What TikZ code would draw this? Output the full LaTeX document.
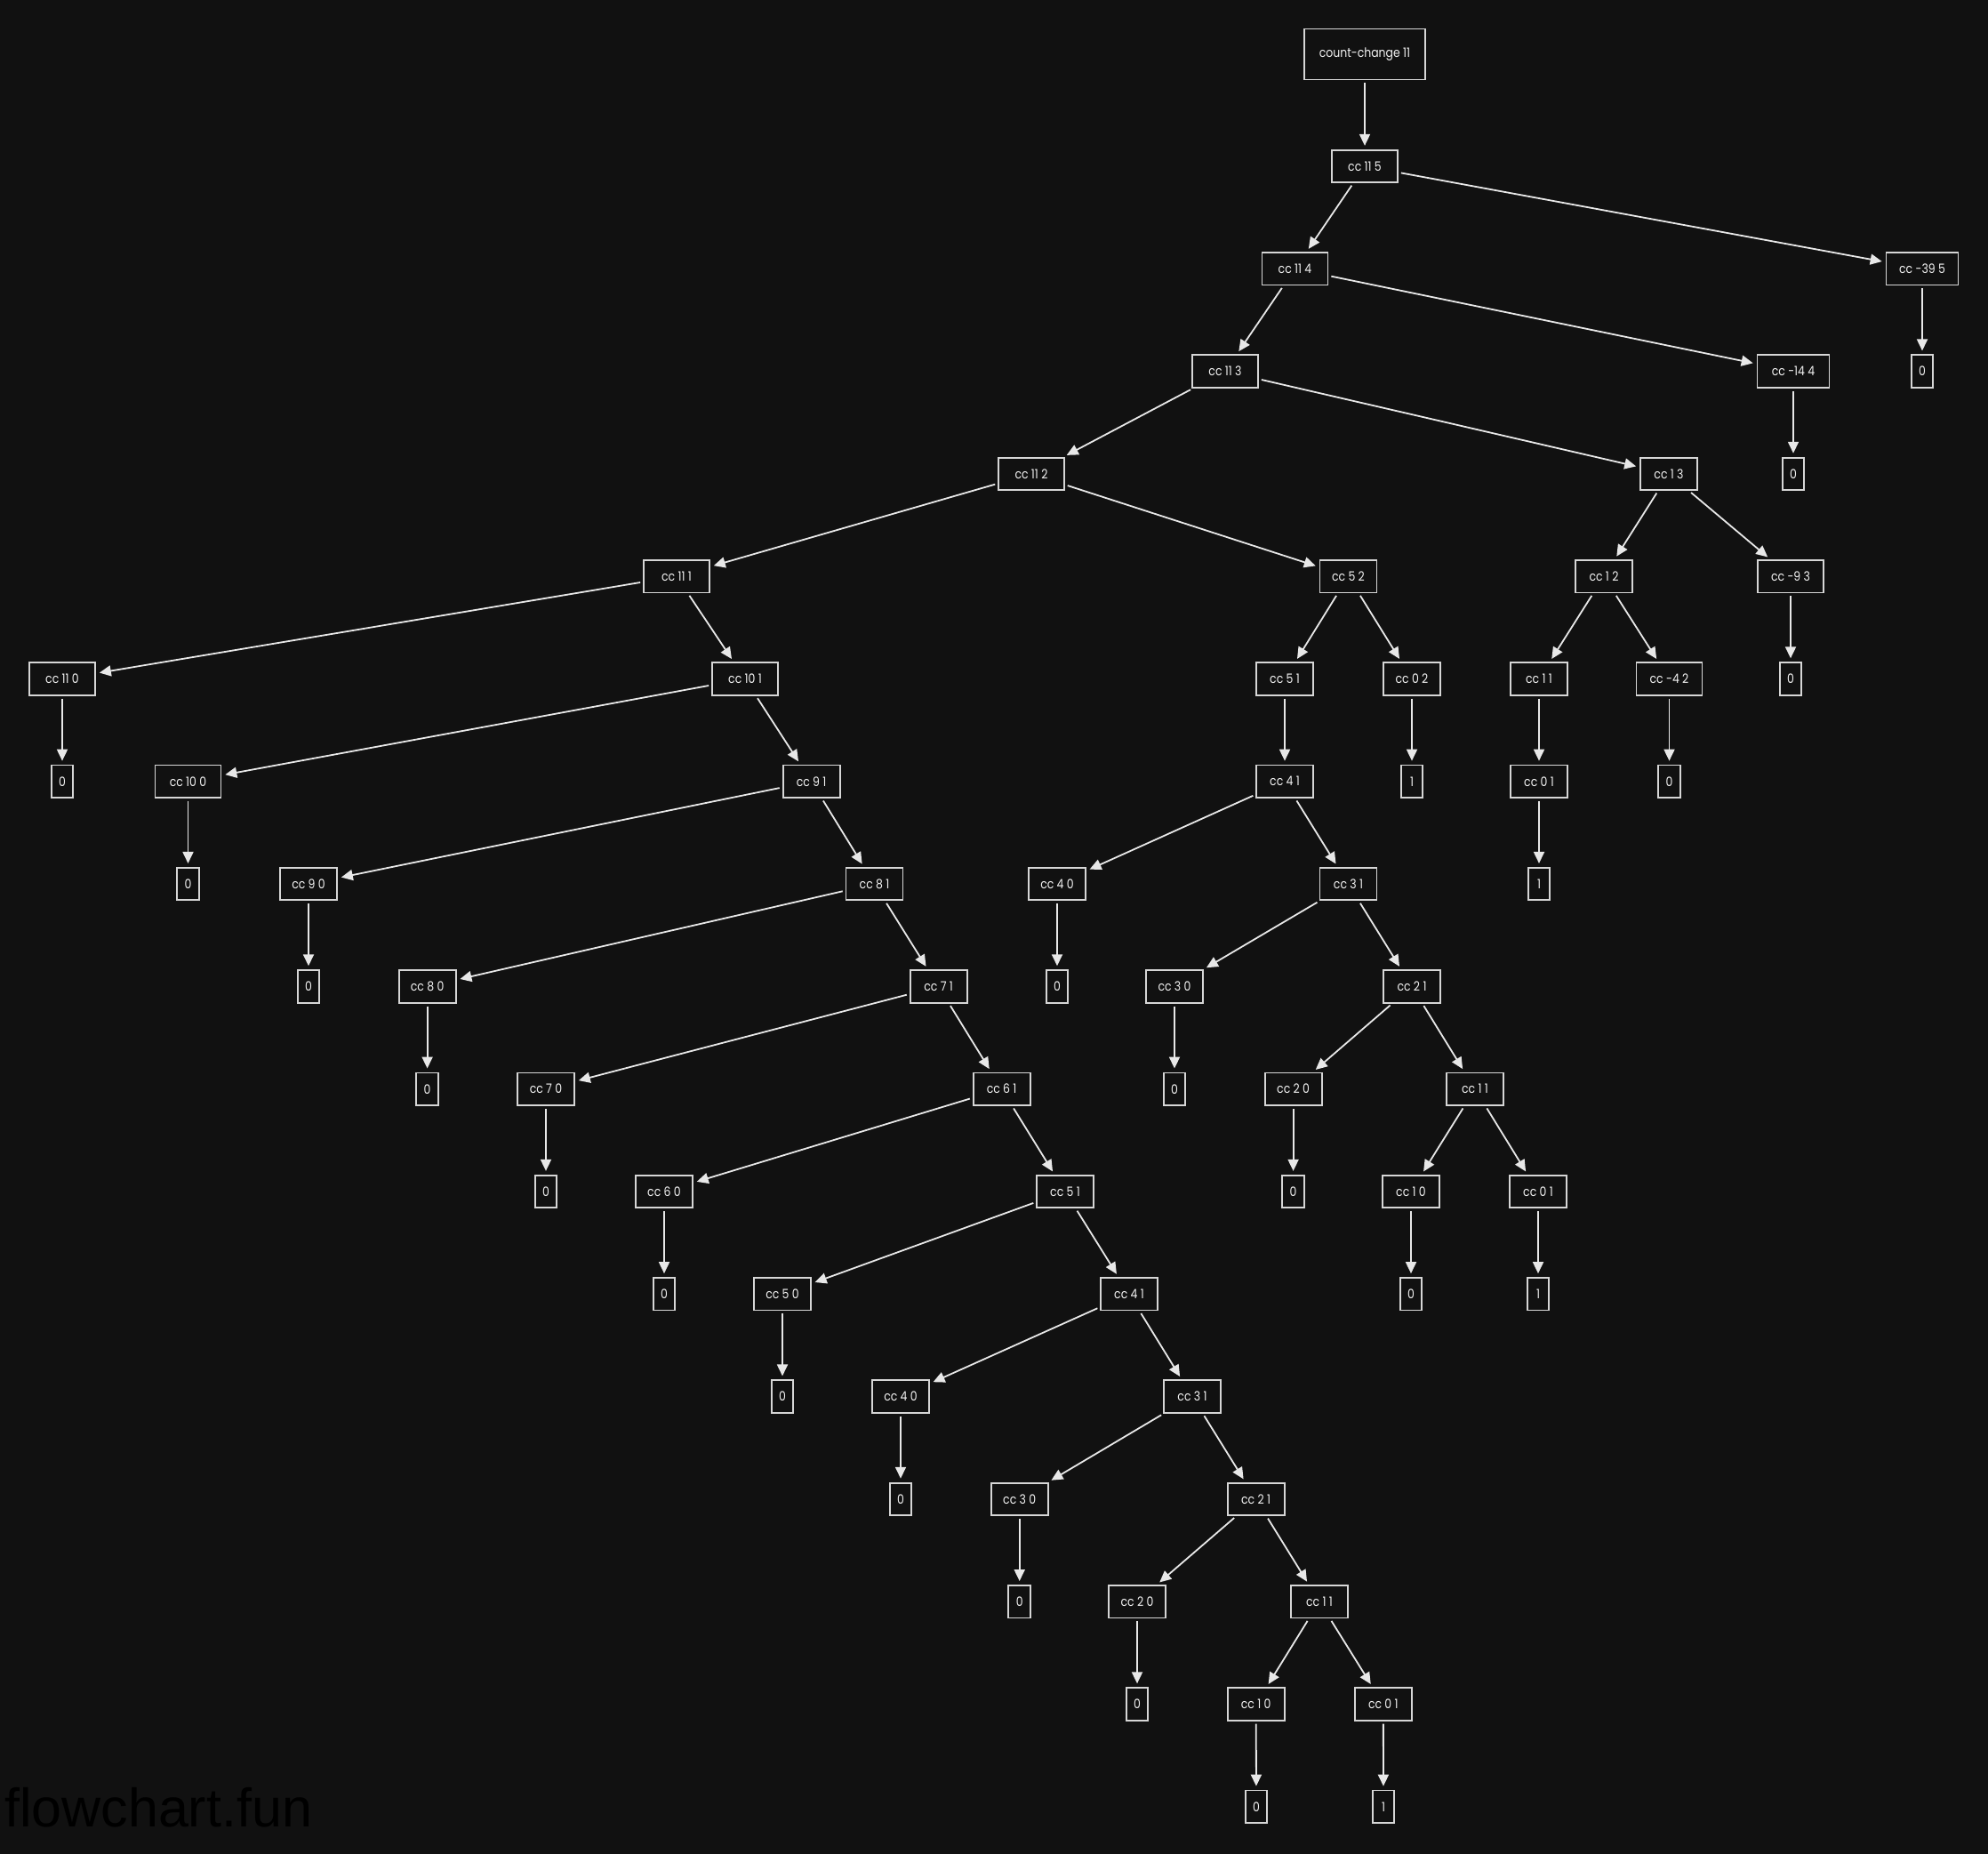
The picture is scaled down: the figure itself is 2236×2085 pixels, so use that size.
\documentclass[tikz,border=0pt]{standalone}
\usepackage{fontspec}
\setmainfont{Poppins}[FakeStretch=0.86]
\newfontfamily\wmfont{Liberation Sans}
\usetikzlibrary{arrows.meta}
\definecolor{bg}{HTML}{111111}
\definecolor{boxc}{HTML}{D6D6D6}
\definecolor{edgec}{HTML}{E8E8E8}
\definecolor{txt}{HTML}{F2F2F2}
\begin{document}
\begin{tikzpicture}[x=1pt,y=-1pt,
  box/.style={draw=boxc, line width=1.8pt, fill=bg, text=txt,
    font=\fontsize{14.5}{16}\selectfont, inner xsep=2pt, inner ysep=0pt,
    minimum height=36.5pt, minimum width=64pt},
  wide/.style={box, minimum width=74pt},
  wider/.style={box, minimum width=81pt},
  leaf/.style={box, minimum width=24.7pt},
  rootbox/.style={box, minimum width=136.6pt, minimum height=57pt},
  edge/.style={draw=edgec, line width=1.8pt, -{Triangle[length=13pt,width=12pt]},
    shorten >=4pt, shorten <=3pt}]
\fill[bg] (0,0) rectangle (2236,2085);
\path[use as bounding box] (0,0) rectangle (2236,2085);
% level 0-1
\node[rootbox] (root) at (1535,61) {count-change 11};
\node[wide] (a115) at (1535,187) {cc 11 5};
% level 2
\node[wide] (a114) at (1456.5,302.3) {cc 11 4};
\node[wider] (m395) at (2162,302.3) {cc -39 5};
% level 3
\node[wide] (a113) at (1378,417.6) {cc 11 3};
\node[wider] (m144) at (2017,417.6) {cc -14 4};
\node[leaf] (z395) at (2162,417.6) {0};
% level 4
\node[wide] (a112) at (1160,532.9) {cc 11 2};
\node[box] (b13) at (1877,532.9) {cc 1 3};
\node[leaf] (z144) at (2017,532.9) {0};
% level 5
\node[wide] (a111) at (761,648.2) {cc 11 1};
\node[box] (b52) at (1516.5,648.2) {cc 5 2};
\node[box] (b12) at (1804,648.2) {cc 1 2};
\node[wide] (m93) at (2014,648.2) {cc -9 3};
% level 6
\node[wide] (a110) at (70,763.5) {cc 11 0};
\node[wide] (a101) at (838,763.5) {cc 10 1};
\node[box] (b51) at (1445,763.5) {cc 5 1};
\node[box] (b02) at (1588,763.5) {cc 0 2};
\node[box] (b11) at (1731,763.5) {cc 1 1};
\node[wide] (m42) at (1877.5,763.5) {cc -4 2};
\node[leaf] (z93) at (2014,763.5) {0};
% level 7
\node[leaf] (z110) at (70,878.8) {0};
\node[wide] (a100) at (211.5,878.8) {cc 10 0};
\node[box] (a91) at (912.6,878.8) {cc 9 1};
\node[box] (b41) at (1445,878.8) {cc 4 1};
\node[leaf] (o02) at (1588,878.8) {1};
\node[box] (b01) at (1731,878.8) {cc 0 1};
\node[leaf] (z42) at (1877.5,878.8) {0};
% level 8
\node[leaf] (z100) at (211.5,994.1) {0};
\node[box] (a90) at (347,994.1) {cc 9 0};
\node[box] (a81) at (983.5,994.1) {cc 8 1};
\node[box] (b40) at (1189,994.1) {cc 4 0};
\node[box] (b31) at (1516.5,994.1) {cc 3 1};
\node[leaf] (o01) at (1731,994.1) {1};
% level 9
\node[leaf] (z90) at (347,1109.4) {0};
\node[box] (a80) at (480.6,1109.4) {cc 8 0};
\node[box] (a71) at (1055.6,1109.4) {cc 7 1};
\node[leaf] (zb40) at (1189,1109.4) {0};
\node[box] (b30) at (1321,1109.4) {cc 3 0};
\node[box] (b21) at (1588,1109.4) {cc 2 1};
% level 10
\node[leaf] (z80) at (480.6,1224.7) {0};
\node[box] (a70) at (614,1224.7) {cc 7 0};
\node[box] (a61) at (1126.6,1224.7) {cc 6 1};
\node[leaf] (zb30) at (1321,1224.7) {0};
\node[box] (b20) at (1454.6,1224.7) {cc 2 0};
\node[box] (bb11) at (1659,1224.7) {cc 1 1};
% level 11
\node[leaf] (z70) at (614,1340) {0};
\node[box] (a60) at (747,1340) {cc 6 0};
\node[box] (a51) at (1198,1340) {cc 5 1};
\node[leaf] (zb20) at (1454.6,1340) {0};
\node[box] (b10) at (1587,1340) {cc 1 0};
\node[box] (bb01) at (1730,1340) {cc 0 1};
% level 12
\node[leaf] (z60) at (747,1455.3) {0};
\node[box] (a50) at (880,1455.3) {cc 5 0};
\node[box] (a41) at (1270,1455.3) {cc 4 1};
\node[leaf] (zb10) at (1587,1455.3) {0};
\node[leaf] (ob01) at (1730,1455.3) {1};
% level 13
\node[leaf] (z50) at (880,1570.6) {0};
\node[box] (a40) at (1013,1570.6) {cc 4 0};
\node[box] (a31) at (1341,1570.6) {cc 3 1};
% level 14
\node[leaf] (z40) at (1013,1685.9) {0};
\node[box] (a30) at (1146.7,1685.9) {cc 3 0};
\node[box] (a21) at (1412.6,1685.9) {cc 2 1};
% level 15
\node[leaf] (z30) at (1146.7,1801.2) {0};
\node[box] (a20) at (1279,1801.2) {cc 2 0};
\node[box] (a11) at (1484,1801.2) {cc 1 1};
% level 16
\node[leaf] (z20) at (1279,1916.5) {0};
\node[box] (a10) at (1412.7,1916.5) {cc 1 0};
\node[box] (a01) at (1555.8,1916.5) {cc 0 1};
% level 17
\node[leaf] (z10) at (1413,2031.8) {0};
\node[leaf] (o01c) at (1556,2031.8) {1};
% edges
\foreach \s/\t in {root/a115, a115/a114, a115/m395, a114/a113, a114/m144, m395/z395,
  a113/a112, a113/b13, m144/z144, a112/a111, a112/b52, b13/b12, b13/m93,
  a111/a110, a111/a101, b52/b51, b52/b02, b12/b11, b12/m42, m93/z93,
  a110/z110, a101/a100, a101/a91, b51/b41, b02/o02, b11/b01, m42/z42,
  a100/z100, a91/a90, a91/a81, b41/b40, b41/b31, b01/o01,
  a90/z90, a81/a80, a81/a71, b40/zb40, b31/b30, b31/b21,
  a80/z80, a71/a70, a71/a61, b30/zb30, b21/b20, b21/bb11,
  a70/z70, a61/a60, a61/a51, b20/zb20, bb11/b10, bb11/bb01,
  a60/z60, a51/a50, a51/a41, b10/zb10, bb01/ob01,
  a50/z50, a41/a40, a41/a31, a40/z40, a31/a30, a31/a21,
  a30/z30, a21/a20, a21/a11, a20/z20, a11/a10, a11/a01,
  a10/z10, a01/o01c}
  \draw[edge] (\s) -- (\t);
% watermark
\node[anchor=base west, inner sep=0pt, text=black, font=\wmfont\fontsize{61}{61}\selectfont] (wm) at (5,2054) {flowchart.fun};
\end{tikzpicture}
\end{document}
